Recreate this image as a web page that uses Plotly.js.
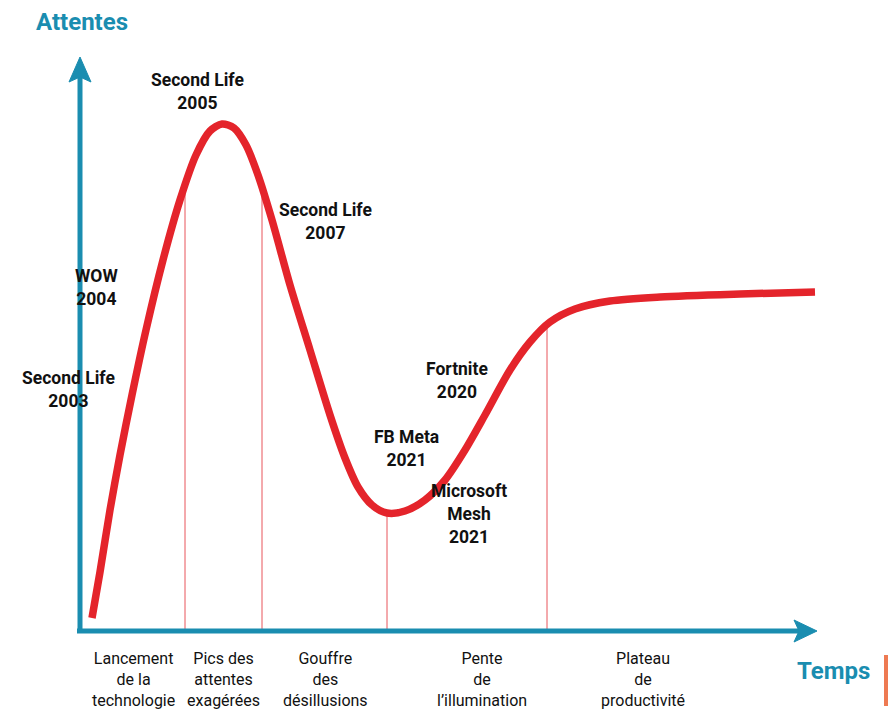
<!DOCTYPE html>
<html><head><meta charset="utf-8">
<script src="https://cdn.plot.ly/plotly-3.0.1.min.js"></script>
<style>html,body{margin:0;padding:0;background:#fff}#chart{width:888px;height:710px}</style>
</head><body><div id="chart"></div>
<script>
// Hype-cycle curve (pixel-like coordinates, y grows downward)
const curveX = [92,100,110,120,132,146,163,180,196,210,222,234,246,258,272,290,310,330,345,358,372,387,405,425,445,465,485,510,530,550,575,610,660,740,815];
const curveY = [618,572,510,455,395,330,260,200,155,131,124,128,145,175,220,285,350,415,458,487,505,513,511,500,480,450,415,370,342,322,309,301,297,294,292];

// Phase dividers
const dividerX = [185,262,387,547];
const dividerTop = [185,188,516,326];

// Phase labels under the axis
const phaseLabels = ["Lancement<br>de la<br>technologie","Pics des<br>attentes<br>exagérées","Gouffre<br>des<br>désillusions","Pente<br>de<br>l’illumination","Plateau<br>de<br>productivité"];
const phaseX = [133,223,325,482,643];

// Event labels
const eventLabels = ["Second Life<br>2003","WOW<br>2004","Second Life<br>2005","Second Life<br>2007","FB Meta<br>2021","Fortnite<br>2020","Microsoft<br>Mesh<br>2021"];
const eventX = [68,96,197,325,406,457,469];
const eventY = [389,287,91,221,448,380,514];

const axisColor = "#1a8db0";
const curveColor = "#e4242b";

const shapes = [];
dividerX.forEach((x,i)=>shapes.push({type:"line",xref:"x",yref:"y",x0:x,x1:x,y0:dividerTop[i],y1:629,line:{color:"#e8555a",width:1},layer:"below"}));
// axes
shapes.push({type:"line",xref:"x",yref:"y",x0:80,x1:80,y0:633,y1:75,line:{color:axisColor,width:5}});
shapes.push({type:"line",xref:"x",yref:"y",x0:77,x1:800,y0:631,y1:631,line:{color:axisColor,width:5}});
shapes.push({type:"path",xref:"x",yref:"y",path:"M80,57 L91,82 L80,77 L69,82 Z",fillcolor:axisColor,line:{color:axisColor,width:1}});
shapes.push({type:"path",xref:"x",yref:"y",path:"M817,631 L794,620 L799,631 L794,642 Z",fillcolor:axisColor,line:{color:axisColor,width:1}});
// small orange bar at right edge
shapes.push({type:"rect",xref:"x",yref:"y",x0:884,x1:888,y0:655,y1:706,fillcolor:"#ee7a52",line:{width:0}});

const annotations = [];
phaseLabels.forEach((t,i)=>annotations.push({x:phaseX[i],y:679,xref:"x",yref:"y",text:t,showarrow:false,xanchor:"center",yanchor:"middle",align:"center",font:{family:"Roboto, sans-serif",size:16,color:"#111"}}));
eventLabels.forEach((t,i)=>annotations.push({x:eventX[i],y:eventY[i],xref:"x",yref:"y",text:"<b>"+t+"</b>",showarrow:false,xanchor:"center",yanchor:"middle",align:"center",font:{family:"Roboto, sans-serif",size:17.5,color:"#111"}}));
annotations.push({x:82,y:22,xref:"x",yref:"y",text:"<b>Attentes</b>",showarrow:false,xanchor:"center",yanchor:"middle",font:{family:"Roboto, sans-serif",size:24,color:axisColor}});
annotations.push({x:833,y:671,xref:"x",yref:"y",text:"<b>Temps</b>",showarrow:false,xanchor:"center",yanchor:"middle",font:{family:"Roboto, sans-serif",size:24,color:axisColor}});

const trace = {x:curveX,y:curveY,type:"scatter",mode:"lines",line:{color:curveColor,width:7.5,shape:"spline",smoothing:0.8},hoverinfo:"skip"};

const layout = {
  width:888,height:710,margin:{l:0,r:0,t:0,b:0},
  paper_bgcolor:"#fff",plot_bgcolor:"#fff",showlegend:false,
  xaxis:{range:[0,888],visible:false,fixedrange:true},
  yaxis:{range:[710,0],visible:false,fixedrange:true},
  shapes:shapes,annotations:annotations
};
Plotly.newPlot("chart",[trace],layout,{staticPlot:true,displayModeBar:false});
</script></body></html>
